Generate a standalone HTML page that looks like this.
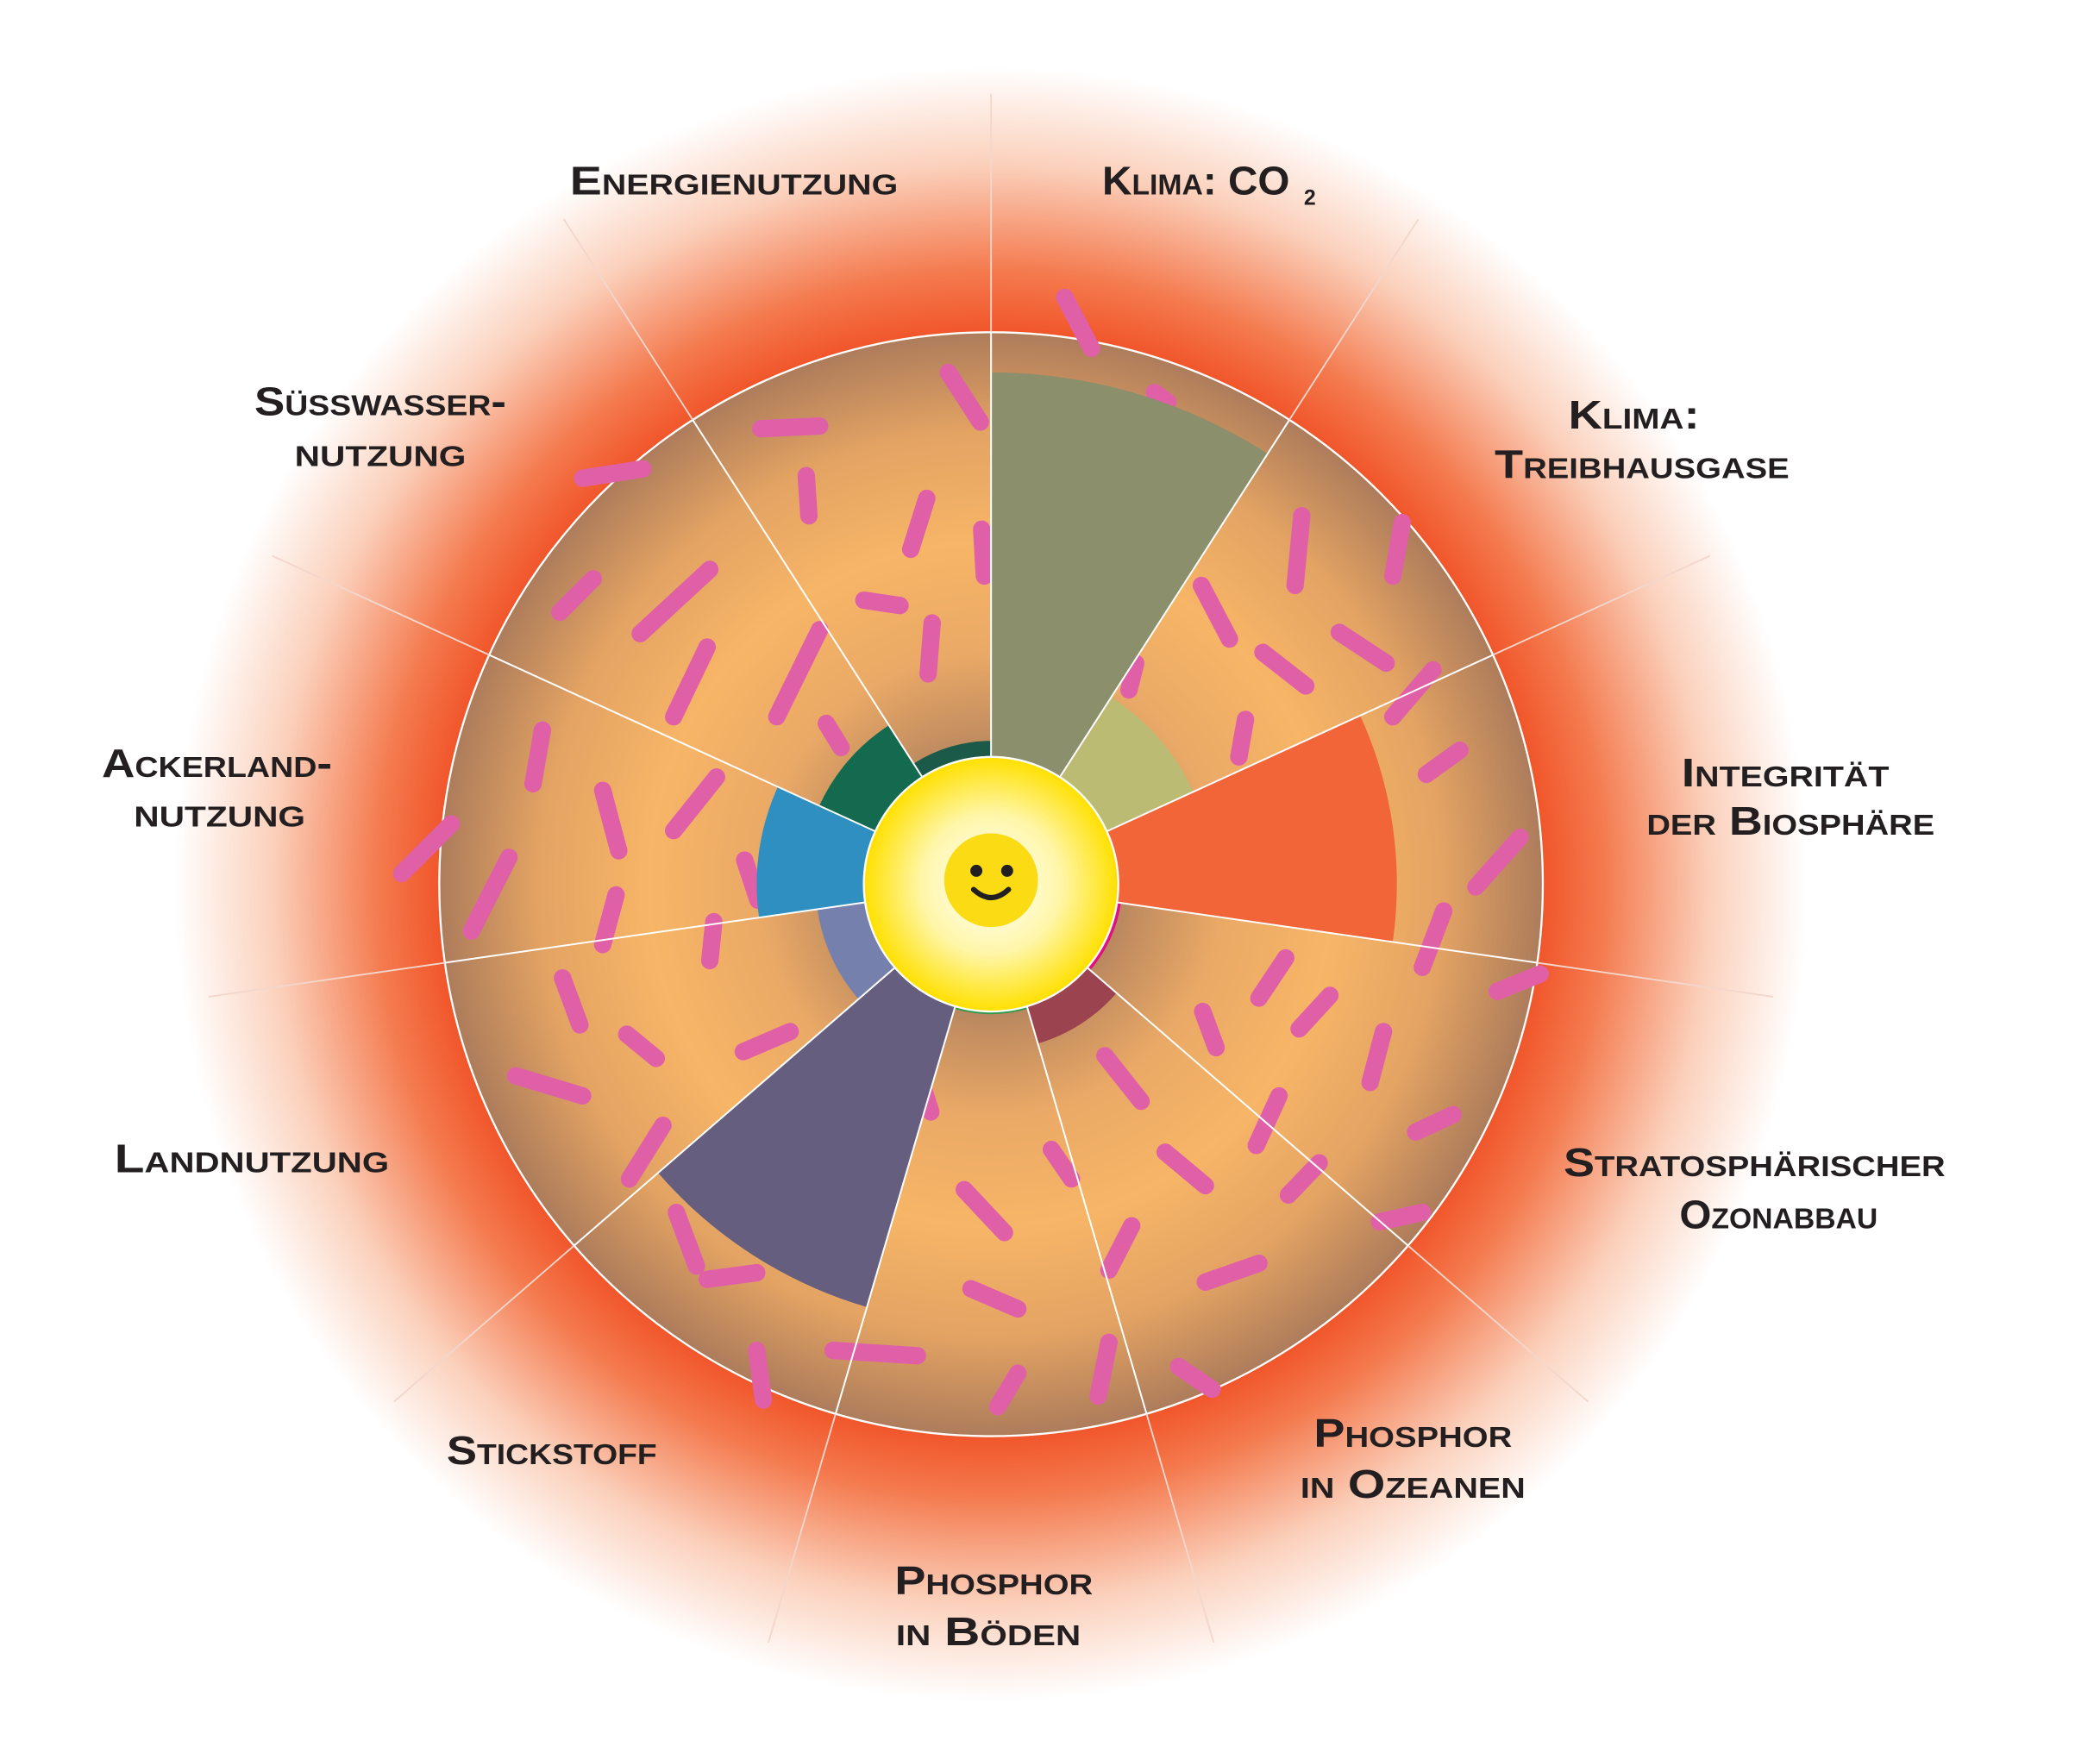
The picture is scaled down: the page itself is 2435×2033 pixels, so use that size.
<!DOCTYPE html>
<html><head><meta charset="utf-8"><style>
html,body{margin:0;padding:0;background:#fff;}
svg{display:block}
text{font-family:"Liberation Sans",sans-serif;font-weight:bold;font-variant:small-caps;fill:#231f20;font-size:30px;text-anchor:middle}
</style></head><body>
<svg id="s" width="2435" height="2033" viewBox="0 0 1568 1308.5" preserveAspectRatio="none" xmlns="http://www.w3.org/2000/svg">
<defs>
<radialGradient id="glow" cx="740" cy="660" r="610" gradientUnits="userSpaceOnUse">
<stop offset="0.66" stop-color="#f04e23"/>
<stop offset="0.75" stop-color="#f47a4e"/>
<stop offset="0.88" stop-color="#fbd0bb"/>
<stop offset="1" stop-color="#ffffff"/>
</radialGradient>
<radialGradient id="disc" cx="740" cy="660" r="412" gradientUnits="userSpaceOnUse">
<stop offset="0.22" stop-color="#b5845e"/>
<stop offset="0.42" stop-color="#eaa966"/>
<stop offset="0.62" stop-color="#f7b567"/>
<stop offset="0.82" stop-color="#e3a363"/>
<stop offset="1" stop-color="#ad7c5b"/>
</radialGradient>
<radialGradient id="sun" cx="740" cy="660" r="95" gradientUnits="userSpaceOnUse">
<stop offset="0" stop-color="#ffffff"/>
<stop offset="0.55" stop-color="#fff6a8"/>
<stop offset="1" stop-color="#ffe000"/>
</radialGradient>
</defs>
<circle cx="740" cy="660" r="610" fill="url(#glow)"/>
<circle cx="740" cy="660" r="412" fill="url(#disc)" stroke="#fff" stroke-width="1.5"/>
<g id="wedges"></g>
<g id="lines"></g>
<g id="dashes" stroke="#e060a8" stroke-width="13" stroke-linecap="round"></g>
<circle cx="740" cy="660" r="95" fill="url(#sun)" stroke="#fff" stroke-width="1.5"/>
<circle cx="740" cy="657" r="35" fill="#fbdc14"/>
<circle cx="729" cy="650" r="4.5" fill="#231f20"/>
<circle cx="752" cy="650" r="4.5" fill="#231f20"/>
<path d="M727 664 Q740 676 753 664" stroke="#231f20" stroke-width="4" fill="none" stroke-linecap="round"/>

<text x="548" y="145" textLength="245" lengthAdjust="spacingAndGlyphs">Energienutzung</text>
<text x="893" y="145" textLength="140" lengthAdjust="spacingAndGlyphs">Klima: CO</text>
<text x="978" y="153" style="font-size:16px">2</text>
<text x="1220" y="320" textLength="98" lengthAdjust="spacingAndGlyphs">Klima:</text>
<text x="1226" y="357" textLength="220" lengthAdjust="spacingAndGlyphs">Treibhausgase</text>
<text x="1333" y="587" textLength="155" lengthAdjust="spacingAndGlyphs">Integrität</text>
<text x="1337" y="623" textLength="215" lengthAdjust="spacingAndGlyphs">der Biosphäre</text>
<text x="1310" y="878" textLength="285" lengthAdjust="spacingAndGlyphs">Stratosphärischer</text>
<text x="1328" y="917" textLength="148" lengthAdjust="spacingAndGlyphs">Ozonabbau</text>
<text x="1055" y="1080" textLength="148" lengthAdjust="spacingAndGlyphs">Phosphor</text>
<text x="1055" y="1118" textLength="168" lengthAdjust="spacingAndGlyphs">in Ozeanen</text>
<text x="742" y="1190" textLength="148" lengthAdjust="spacingAndGlyphs">Phosphor</text>
<text x="738" y="1228" textLength="138" lengthAdjust="spacingAndGlyphs">in Böden</text>
<text x="412" y="1093" textLength="157" lengthAdjust="spacingAndGlyphs">Stickstoff</text>
<text x="188" y="875" textLength="205" lengthAdjust="spacingAndGlyphs">Landnutzung</text>
<text x="162" y="580" textLength="172" lengthAdjust="spacingAndGlyphs">Ackerland-</text>
<text x="164" y="617" textLength="128" lengthAdjust="spacingAndGlyphs">nutzung</text>
<text x="284" y="310" textLength="188" lengthAdjust="spacingAndGlyphs">Süsswasser-</text>
<text x="284" y="348" textLength="128" lengthAdjust="spacingAndGlyphs">nutzung</text>
</svg>
<script>
(function(){
var NS="http://www.w3.org/2000/svg",cx=740,cy=660,r0=95,step=360/11;
function pt(b,r){var a=(b-90)*Math.PI/180;return [cx+r*Math.cos(a),cy+r*Math.sin(a)];}
var w=[[382,"#8c8f6b"],[166,"#bcbb74"],[303,"#f26539"],[98,"#e0127f"],[124,"#9b4450"],[97,"#2b9a4a"],[329,"#665e7e"],[131,"#7580ac"],[175,"#2f8fc0"],[141,"#136a4e"],[107,"#1b5a48"]];
var g=document.getElementById("wedges");
w.forEach(function(e,i){var b1=i*step,b2=(i+1)*step,r=e[0];
var A=pt(b1,r0),B=pt(b1,r),C=pt(b2,r),D=pt(b2,r0);
var p=document.createElementNS(NS,"path");
p.setAttribute("d","M"+A+" L"+B+" A"+r+" "+r+" 0 0 1 "+C+" L"+D+" A"+r0+" "+r0+" 0 0 0 "+A+"Z");
p.setAttribute("fill",e[1]);g.appendChild(p);});
var L=document.getElementById("lines");
for(var i=0;i<11;i++){var b=i*step;var A=pt(b,r0),B=pt(b,412),C=pt(b,590);
var l=document.createElementNS(NS,"line");l.setAttribute("x1",A[0]);l.setAttribute("y1",A[1]);l.setAttribute("x2",B[0]);l.setAttribute("y2",B[1]);l.setAttribute("stroke","#fff");l.setAttribute("stroke-width","1.3");L.appendChild(l);
l=document.createElementNS(NS,"line");l.setAttribute("x1",B[0]);l.setAttribute("y1",B[1]);l.setAttribute("x2",C[0]);l.setAttribute("y2",C[1]);l.setAttribute("stroke","#f3d6cc");l.setAttribute("stroke-width","1.2");L.appendChild(l);}
var d=[[795,222,815,260],[708,278,732,315],[568,320,612,318],[435,357,480,350],[602,355,604,385],[692,372,680,410],[733,395,735,430],[645,448,672,452],[696,465,693,503],[418,457,443,432],[478,473,530,425],[503,535,528,483],[580,535,612,470],[617,540,628,558],[405,545,398,585],[300,652,337,615],[450,590,462,635],[503,620,535,580],[352,695,380,640],[450,705,460,668],[556,642,566,672],[533,688,530,717],[420,730,433,765],[468,772,490,790],[385,803,435,818],[555,785,590,770],[470,880,495,840],[505,905,520,945],[528,955,565,950],[565,1008,570,1045],[622,1008,685,1012],[640,935,648,910],[688,808,695,830],[720,888,750,920],[725,962,760,977],[745,1050,760,1025],[785,858,800,880],[820,1042,828,1002],[828,948,845,915],[825,788,852,822],[870,860,900,885],[880,1020,905,1037],[900,957,940,943],[898,755,908,782],[940,745,960,715],[938,855,955,818],[970,768,993,743],[962,892,985,868],[1030,912,1062,905],[1023,808,1033,770],[1057,845,1085,832],[1062,722,1078,680],[1102,662,1135,625],[1118,740,1150,727],[1065,578,1090,560],[1040,535,1070,500],[1000,472,1035,495],[943,487,975,512],[897,437,918,477],[843,515,848,495],[925,565,930,537],[967,437,972,385],[1040,430,1047,390],[862,293,872,300]];
var D=document.getElementById("dashes");
d.forEach(function(e){var l=document.createElementNS(NS,"line");l.setAttribute("x1",e[0]);l.setAttribute("y1",e[1]);l.setAttribute("x2",e[2]);l.setAttribute("y2",e[3]);D.appendChild(l);});
var W=document.getElementById("wedges");W.parentNode.insertBefore(D,W);
})();
</script>
</body></html>
